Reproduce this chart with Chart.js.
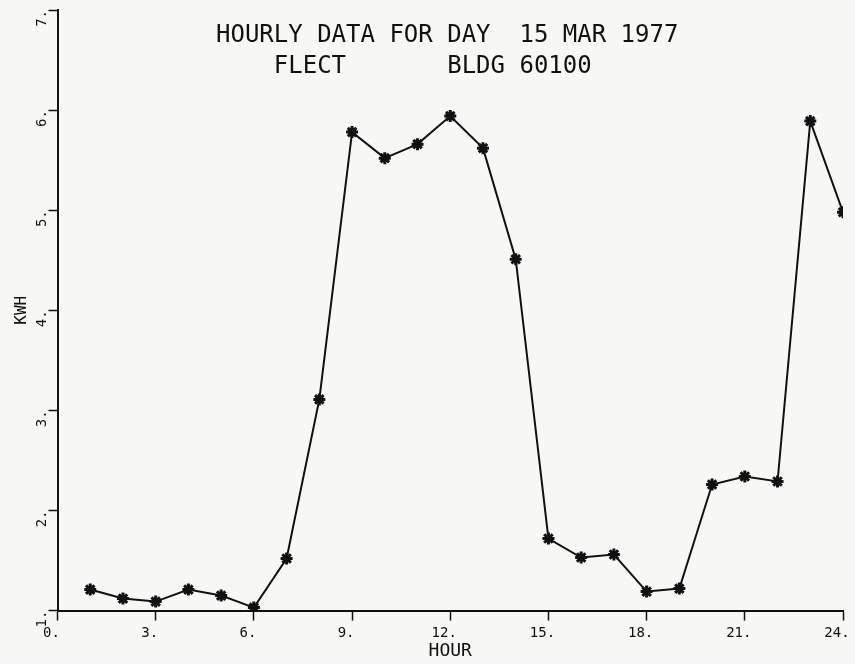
<!DOCTYPE html>
<html>
<head>
<meta charset="utf-8">
<script src="https://cdn.jsdelivr.net/npm/chart.js@4/dist/chart.umd.min.js"></script>
<style>
  html, body { margin: 0; padding: 0; background: #f7f7f5; }
  #wrap { position: relative; width: 855px; height: 664px; }
  canvas { position: absolute; left: 0; top: 0; }
  .ttl { position: absolute; font-family: 'DejaVu Sans Mono', monospace; font-size: 24px;
         line-height: 24px; white-space: pre; color: #111; }
</style>
</head>
<body>
<div id="wrap">
  <canvas id="c" width="855" height="664"></canvas>
  <div class="ttl" style="left:216px; top:22px;">HOURLY DATA FOR DAY  15 MAR 1977</div>
  <div class="ttl" style="left:216px; top:53px;">    FLECT       BLDG 60100</div>
</div>
<script>
const hours = [1, 2, 3, 4, 5, 6, 7, 8, 9, 10, 11, 12, 13, 14, 15, 16, 17, 18, 19, 20, 21, 22, 23, 24];
const kwh = [1.21, 1.12, 1.09, 1.21, 1.15, 1.03, 1.52, 3.11, 5.78, 5.52, 5.66, 5.94,
             5.62, 4.51, 1.72, 1.53, 1.56, 1.19, 1.22, 2.26, 2.34, 2.29, 5.89, 4.98];
const xTicks = [0, 3, 6, 9, 12, 15, 18, 21, 24];
const yTicks = [1, 2, 3, 4, 5, 6, 7];
const xTitle = 'HOUR';
const yTitle = 'KWH';

const mono = 'DejaVu Sans Mono';
new Chart(document.getElementById('c'), {
  type: 'line',
  data: {
    datasets: [{
      data: hours.map((h, i) => ({ x: h, y: kwh[i] })),
      borderColor: '#111',
      borderWidth: 2,
      pointStyle: 'star',
      pointRadius: 6,
      pointBorderWidth: 3,
      pointBorderColor: '#111',
      pointBackgroundColor: '#111',
      tension: 0,
      fill: false
    }]
  },
  options: {
    responsive: false,
    animation: false,
    layout: { padding: { left: 0, right: 12, top: 10, bottom: 0 } },
    plugins: { legend: { display: false }, tooltip: { enabled: false } },
    scales: {
      x: {
        type: 'linear',
        min: xTicks[0], max: xTicks[xTicks.length - 1],
        afterBuildTicks: s => { s.ticks = xTicks.map(v => ({ value: v })); },
        afterFit: s => { s.height = 53.4; s.paddingLeft = 0; s.paddingRight = 0; },
        border: { display: true, color: '#111', width: 2 },
        grid: { drawOnChartArea: false, drawTicks: true, tickLength: 10, tickColor: '#111', tickWidth: 1.5 },
        ticks: {
          color: '#111', padding: 4, labelOffset: -6, maxRotation: 0,
          font: { family: mono, size: 14 },
          callback: v => v + '.'
        },
        title: { display: true, text: xTitle, color: '#111', font: { family: mono, size: 18 },
                 padding: { top: 0, bottom: 2 } }
      },
      y: {
        type: 'linear',
        min: yTicks[0], max: yTicks[yTicks.length - 1],
        afterBuildTicks: s => { s.ticks = yTicks.map(v => ({ value: v })); },
        afterFit: s => { s.width = 57.5; s.paddingTop = 0; s.paddingBottom = 0; },
        border: { display: true, color: '#111', width: 2 },
        grid: { drawOnChartArea: false, drawTicks: true, tickLength: 9, tickColor: '#111', tickWidth: 1.5 },
        ticks: {
          color: '#111', padding: 6, minRotation: 90, maxRotation: 90,
          font: { family: mono, size: 14 },
          callback: v => v + '.'
        },
        title: { display: true, text: yTitle, color: '#111', font: { family: mono, size: 16 },
                 padding: { top: 12, bottom: 0 } }
      }
    }
  }
});
</script>
</body>
</html>
